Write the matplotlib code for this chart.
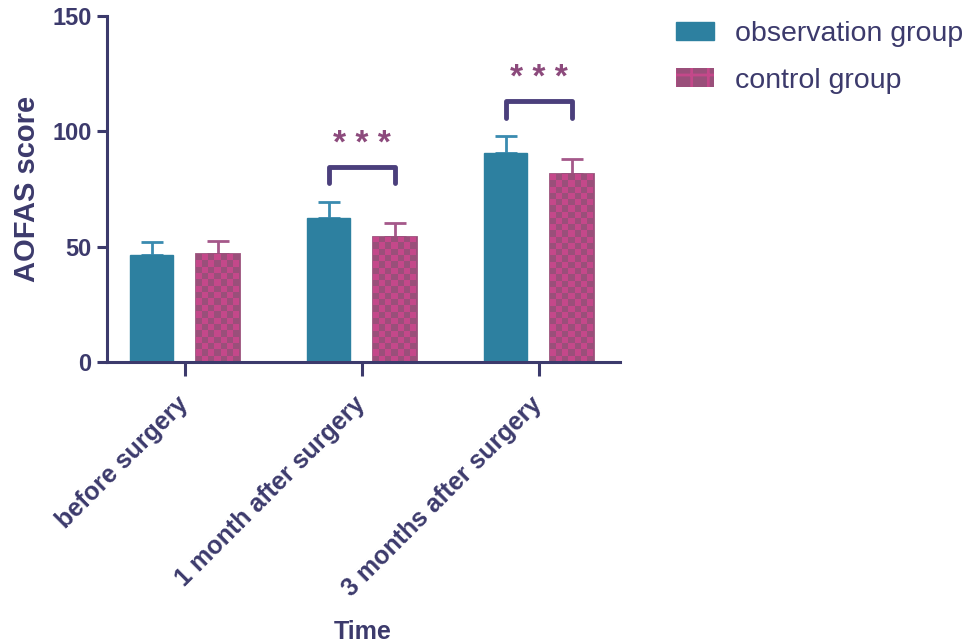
import numpy as np
import matplotlib
matplotlib.use("Agg")
import matplotlib.pyplot as plt
from matplotlib.patches import Patch
from matplotlib.colors import ListedColormap

plt.rcParams['font.family'] = ['Liberation Sans', 'DejaVu Sans']
plt.rcParams['hatch.linewidth'] = 2.0

# data
categories = ["before surgery", "1 month after surgery", "3 months after surgery"]
obs_mean = [46.5, 62.3, 90.6]
obs_sd = [5.5, 7.2, 7.4]
ctrl_mean = [46.8, 54.3, 81.5]
ctrl_sd = [5.6, 6.1, 6.6]
sig_groups = [1, 2]
sig_labels = ["***", "***"]

axis_col = '#3c3a6c'
obs_col = '#2d80a0'
ctrl_col = '#9a4f7a'
ctrl_pink = '#c4488a'

fig = plt.figure(figsize=(9.68, 6.43), dpi=100)
ax = fig.add_axes([0.1105, 0.437, 0.530, 0.538])

x = np.arange(len(categories))
w = 0.243
off = 0.186

ax.bar(x - off, obs_mean, w, color=obs_col, edgecolor=obs_col, linewidth=1, zorder=2)
ax.errorbar(x - off, obs_mean, yerr=[np.zeros(3), obs_sd], fmt='none',
            ecolor='#3a8bb0', elinewidth=2, capsize=8, capthick=2, zorder=1)

ctrl_bars = ax.bar(x + off, ctrl_mean, w, color=ctrl_col, edgecolor=ctrl_col,
                   linewidth=2, zorder=2)
ax.errorbar(x + off, ctrl_mean, yerr=[np.zeros(3), ctrl_sd], fmt='none',
            ecolor='#a5588a', elinewidth=2, capsize=8, capthick=2, zorder=1)

# checkerboard texture clipped to each control bar
checker_cmap = ListedColormap([ctrl_col, ctrl_pink])
for rect in ctrl_bars:
    x0, y0 = rect.get_x(), rect.get_y()
    bw, bh = rect.get_width(), rect.get_height()
    ncol = 7
    nrow = int(round(bh * 2.307 / 6.2))
    board = np.indices((nrow, ncol)).sum(axis=0) % 2
    im = ax.imshow(board, cmap=checker_cmap, extent=(x0, x0 + bw, y0, y0 + bh),
                   aspect='auto', interpolation='nearest', origin='lower', zorder=2.5)
    im.set_clip_path(rect)

# significance brackets
for g, lab in zip(sig_groups, sig_labels):
    top = max(obs_mean[g] + obs_sd[g], ctrl_mean[g] + ctrl_sd[g])
    yb = top + 15
    ax.plot([g - off, g - off, g + off, g + off], [yb - 7, yb, yb, yb - 7],
            color='#4b3f7c', lw=3.5, solid_capstyle='round', solid_joinstyle='round')
    ax.text(g, yb + 3, ' '.join(lab), ha='center', va='bottom', color='#8c4a7c',
            fontsize=24, fontweight='bold')

ax.set_ylim(0, 150)
ax.set_xlim(-0.44, 2.46)
ax.set_yticks([0, 50, 100, 150])
ax.set_xticks(x)
ax.set_xticklabels(categories, rotation=45, ha='right', va='center',
                   rotation_mode='anchor', fontsize=18, fontweight='bold',
                   color=axis_col)
ax.tick_params(axis='x', length=10, width=2.2, color=axis_col, pad=18)
ax.tick_params(axis='y', length=7, width=2.2, color=axis_col, labelsize=17,
               labelcolor=axis_col, pad=4)
for t in ax.get_yticklabels():
    t.set_fontweight('bold')

for s in ['top', 'right']:
    ax.spines[s].set_visible(False)
for s in ['left', 'bottom']:
    ax.spines[s].set_color(axis_col)
    ax.spines[s].set_linewidth(2.2)

ax.set_ylabel("AOFAS score", fontsize=21, fontweight='bold', color=axis_col, labelpad=8)
ax.set_xlabel("Time", fontsize=18, fontweight='bold', color=axis_col)
ax.xaxis.set_label_coords(0.499, -0.745)

handles = [Patch(facecolor=obs_col, edgecolor=obs_col),
           Patch(facecolor=ctrl_col, edgecolor=ctrl_pink, hatch='+', linewidth=0)]
fig.legend(handles, ["observation group", "control group"], loc='upper left',
           bbox_to_anchor=(0.6866, 0.985), borderaxespad=0, frameon=False,
           fontsize=20.5, handlelength=1.33, handleheight=0.63, handletextpad=0.74,
           labelspacing=0.73, labelcolor=axis_col)

fig.savefig("out.png", dpi=100)
